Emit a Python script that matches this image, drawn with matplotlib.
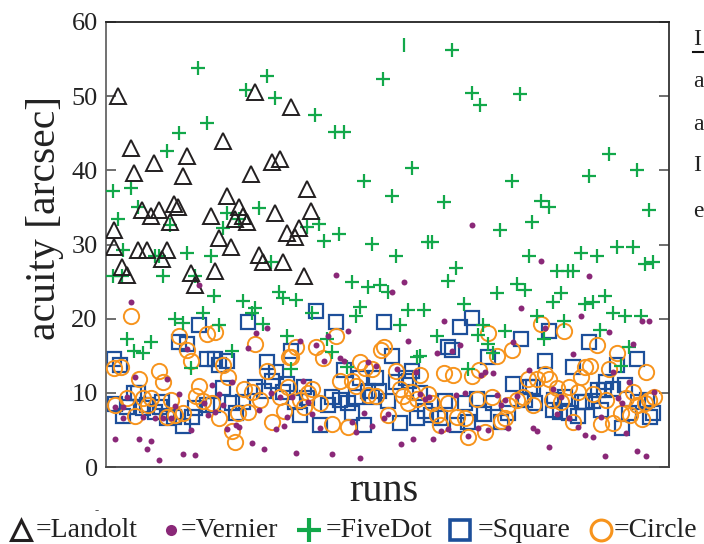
import matplotlib
matplotlib.use('Agg')
import matplotlib.pyplot as plt

# данные по сериям: номер прогона и острота зрения (arcsec)
landolt_run = [2.4, 5.0, 5.6, 9.6, 16.2, 15.4, 23.4, 29.8, 37.0, 33.2, 34.8, 29.0, 40.2, 33.8, 41.0, 36.2,
               38.6, 37.8, 24.2, 7.2, 9.0, 10.6, 13.6, 14.4, 12.8, 21.0, 26.6, 25.8, 27.4, 28.2, 1.6, 22.6,
               1.6, 6.4, 8.2, 12.2, 11.2, 25.0, 30.6, 31.4, 35.4, 3.2, 4.2, 17.0, 21.8, 39.6, 17.8]
landolt_acuity = [50.0, 43.0, 39.7, 41.0, 41.9, 39.2, 43.9, 50.5, 48.5, 41.1, 41.5, 39.5, 37.5, 34.3, 34.5,
                  31.6, 32.2, 31.0, 36.5, 34.6, 33.8, 34.6, 35.5, 35.1, 33.0, 33.8, 35.0, 33.5, 33.8, 33.0,
                  32.0, 30.9, 29.7, 29.3, 29.3, 29.3, 28.0, 29.7, 28.6, 27.6, 27.7, 27.0, 25.9, 26.2, 26.4,
                  25.8, 24.5]

fivedot_run = [18.4, 28.0, 20.2, 14.6, 12.2, 1.4, 5.0, 2.4, 6.4, 12.8, 24.2, 23.4, 26.6, 69.2, 32.2, 55.4,
               33.8, 73.2, 74.8, 41.8, 45.8, 47.6, 61.2, 51.6, 57.2, 67.6, 30.6, 40.2, 42.6, 43.6, 46.6,
               53.2, 64.4, 65.2, 78.8, 82.8, 81.2, 100.6, 96.6, 106.2, 87.0, 88.6, 85.2, 108.6, 102.2,
               105.4, 95.0, 58.0, 84.6, 98.2, 107.8, 109.4, 90.2, 92.4, 93.4, 70.0, 68.4, 49.2, 52.4, 54.8,
               56.4, 78.2, 82.2, 83.8, 91.0, 99.8, 3.4, 9.8, 10.6, 16.2, 21.0, 33.0, 1.4, 3.2, 11.4, 17.8,
               21.6, 34.6, 35.4, 38.0, 27.4, 29.8, 29.2, 13.8, 15.4, 19.4, 22.6, 31.4, 4.2, 9.0, 5.6, 7.4,
               25.2, 17.0, 36.2, 41.2, 50.8, 50.0, 60.4, 63.6, 58.8, 71.6, 75.4, 44.2, 45.2, 66.2, 62.2,
               62.8, 48.2, 37.0, 72.4, 89.4, 95.8, 97.4, 101.4, 103.8, 107.0, 86.2, 91.6, 79.8, 87.6,
               98.8, 74.4, 76.4, 77.4, 104.6, 103.0]
fivedot_acuity = [53.8, 50.8, 46.4, 45.0, 42.6, 37.2, 37.6, 33.4, 35.0, 32.6, 34.3, 32.2, 33.5, 56.2, 52.7,
                  52.3, 49.7, 50.4, 48.8, 47.4, 45.1, 45.1, 40.3, 38.5, 36.5, 35.7, 34.9, 32.3, 32.8, 30.5,
                  31.4, 30.1, 30.3, 30.4, 31.9, 50.3, 38.5, 42.2, 39.3, 40.1, 35.8, 35.1, 33.0, 34.6, 29.7,
                  29.6, 28.9, 28.5, 28.5, 28.5, 27.4, 27.7, 26.4, 26.4, 26.4, 26.8, 25.1, 24.9, 24.3, 24.5,
                  23.6, 23.5, 24.7, 23.8, 23.5, 23.1, 29.2, 28.5, 28.5, 28.8, 28.4, 27.7, 25.8, 25.7, 25.7,
                  25.8, 23.1, 23.6, 22.8, 22.5, 22.4, 21.4, 20.7, 20.0, 19.4, 20.7, 19.1, 19.3, 17.3, 16.9,
                  15.7, 15.4, 15.7, 13.4, 17.7, 20.8, 21.6, 20.3, 21.2, 21.2, 19.2, 22.0, 19.2, 17.3, 15.5,
                  17.7, 14.9, 15.0, 13.5, 13.2, 13.2, 22.2, 22.0, 22.2, 20.8, 20.4, 20.3, 20.4, 19.7, 18.4,
                  17.2, 18.5, 17.8, 16.6, 15.4, 16.2, 13.6]
# одиночная вертикальная черта вверху
fivedot_bar_run = [59.6]
fivedot_bar_acuity = [56.9]

vernier_run = [5.0, 18.6, 16.2, 5.8, 12.2, 4.2, 21.2, 22.6, 25.2, 14.6, 1.8, 6.6, 9.0, 8.2, 10.6, 15.4, 17.8,
               17.0, 24.2, 26.0, 26.6, 20.4, 21.8, 9.8, 11.4, 13.0, 7.4, 19.6, 1.8, 3.4, 3.4, 23.4, 13.8,
               30.0, 32.2, 28.4, 33.0, 34.8, 30.6, 34.0, 35.6, 36.2, 29.2, 31.6, 57.2, 48.4, 44.4, 42.0,
               38.8, 46.8, 47.6, 43.6, 52.4, 54.0, 60.4, 67.6, 66.2, 70.8, 69.2, 58.2, 62.0, 39.4, 37.2,
               40.4, 41.2, 51.6, 55.6, 56.4, 63.8, 64.6, 62.8, 70.0, 71.8, 74.4, 72.4, 67.0, 68.4, 42.8,
               49.2, 50.0, 53.2, 61.4, 65.4, 59.0, 38.0, 45.2, 50.8, 46.0, 59.6, 73.2, 87.0, 96.6, 83.0,
               95.0, 107.2, 108.6, 87.8, 100.6, 81.4, 93.4, 105.4, 84.6, 75.0, 77.4, 75.8, 101.4, 104.6,
               109.6, 78.2, 79.8, 82.2, 89.4, 91.0, 102.4, 103.2, 79.0, 90.2, 92.6, 94.4, 99.0, 76.4, 80.4,
               85.4, 86.2, 95.8, 97.4, 104.0, 88.6, 99.8, 106.2, 108.0]
vernier_acuity = [22.3, 24.6, 15.9, 12.2, 11.8, 9.5, 11.1, 9.9, 11.5, 9.9, 3.8, 3.8, 3.5, 2.4, 0.9, 1.8, 1.6,
                  5.0, 5.1, 5.7, 5.4, 7.0, 7.4, 6.6, 6.6, 6.6, 6.8, 8.6, 8.1, 8.1, 6.6, 8.4, 8.2, 18.1, 18.8,
                  16.1, 10.0, 9.5, 7.7, 5.1, 5.5, 6.8, 3.2, 2.4, 23.6, 18.4, 17.6, 16.5, 17.0, 14.7, 14.3,
                  14.3, 14.2, 13.6, 17.0, 19.7, 15.4, 16.4, 15.7, 13.2, 12.8, 11.6, 9.5, 8.8, 7.2, 7.3, 6.6,
                  7.2, 9.2, 9.5, 9.9, 9.7, 10.0, 5.3, 4.2, 4.9, 5.1, 5.3, 6.1, 4.7, 5.5, 3.8, 3.8, 3.1, 1.9,
                  1.8, 1.2, 25.9, 25.0, 32.6, 27.8, 25.7, 21.5, 20.4, 19.7, 19.7, 18.8, 18.2, 16.9, 15.3,
                  16.6, 13.1, 12.4, 12.7, 12.8, 12.8, 11.4, 10.1, 9.7, 9.1, 9.6, 10.5, 9.5, 9.3, 8.6, 8.4,
                  7.2, 6.6, 5.4, 6.8, 5.0, 5.3, 5.3, 4.9, 4.3, 4.1, 4.6, 2.7, 1.5, 2.2, 1.5]

square_run = [18.6, 28.4, 1.6, 2.8, 14.6, 16.2, 20.2, 21.8, 24.2, 22.6, 32.2, 34.0, 33.2, 36.2, 23.4, 29.8,
              31.6, 5.6, 6.4, 1.8, 4.2, 3.4, 7.4, 8.2, 9.8, 11.2, 10.8, 12.2, 13.6, 15.4, 17.2, 17.8, 20.2,
              21.4, 25.2, 27.4, 26.0, 35.4, 42.0, 46.0, 55.6, 70.8, 73.2, 37.0, 57.2, 68.4, 69.2, 47.6,
              50.8, 54.0, 58.0, 60.0, 60.6, 61.2, 39.6, 37.8, 40.2, 38.8, 45.2, 46.8, 44.4, 48.4, 50.0,
              52.4, 54.6, 53.2, 56.4, 49.2, 42.8, 51.6, 58.8, 62.8, 67.8, 71.8, 74.2, 62.2, 63.8, 65.0,
              66.8, 70.2, 72.4, 88.6, 83.0, 96.6, 76.4, 87.8, 93.4, 102.2, 106.2, 81.4, 84.8, 85.4, 100.0,
              98.4, 99.6, 101.4, 103.8, 77.4, 83.8, 85.8, 89.6, 91.8, 95.2, 95.8, 97.4, 106.4, 108.2, 75.6,
              79.0, 80.4, 89.4, 90.8, 92.6, 94.4, 99.0, 104.6, 108.8, 109.4, 103.2]
square_acuity = [19.1, 19.5, 14.6, 13.7, 16.8, 16.6, 14.6, 14.5, 14.3, 13.7, 14.1, 12.8, 11.6, 11.2, 10.7,
                 10.8, 10.3, 10.0, 10.0, 8.5, 8.1, 6.9, 8.0, 8.4, 7.4, 8.8, 8.1, 6.6, 6.8, 5.5, 6.8, 8.0, 8.4,
                 8.4, 8.6, 8.8, 7.3, 10.1, 21.1, 19.5, 19.6, 18.9, 20.1, 15.7, 15.0, 16.2, 15.8, 13.1, 12.0,
                 12.0, 11.5, 12.0, 11.6, 13.0, 10.8, 8.8, 9.3, 7.0, 9.5, 9.1, 8.4, 8.6, 9.5, 10.3, 10.3, 9.5,
                 8.9, 7.3, 5.7, 5.7, 5.9, 10.0, 8.9, 8.6, 9.2, 6.6, 7.6, 7.0, 6.6, 5.7, 6.1, 18.4, 17.3, 16.9,
                 14.9, 14.3, 13.5, 13.8, 14.5, 11.2, 10.8, 10.8, 11.5, 10.4, 10.4, 10.5, 11.1, 8.6, 9.1, 8.6,
                 9.1, 9.5, 8.8, 8.8, 8.9, 8.8, 9.1, 7.2, 6.1, 7.3, 7.7, 7.4, 7.3, 6.9, 7.7, 7.3, 6.8, 7.3, 5.3]

circle_run = [5.0, 14.6, 20.2, 21.8, 29.8, 16.2, 17.0, 1.6, 3.0, 10.6, 6.6, 11.4, 23.4, 24.4, 18.6, 27.6,
              29.2, 32.2, 36.6, 4.2, 1.8, 7.4, 9.0, 8.4, 13.0, 18.0, 19.4, 21.2, 5.8, 12.2, 13.8, 15.4, 22.6,
              26.4, 28.4, 25.2, 25.8, 33.2, 30.8, 34.8, 35.6, 38.0, 37.0, 42.0, 46.0, 43.4, 55.0, 55.6,
              50.8, 51.8, 53.2, 58.0, 62.8, 67.6, 69.4, 73.2, 46.8, 49.2, 50.0, 36.4, 41.2, 40.4, 38.8,
              39.6, 42.8, 52.4, 54.0, 58.8, 59.4, 60.4, 61.2, 62.2, 64.4, 65.2, 56.4, 66.2, 66.8, 68.4,
              70.2, 71.8, 74.2, 45.2, 48.4, 72.4, 76.4, 87.0, 91.6, 81.2, 78.2, 98.2, 102.2, 74.6, 87.8,
              88.6, 84.4, 86.2, 95.0, 95.8, 96.8, 100.6, 108.0, 90.2, 92.6, 94.4, 97.4, 100.0, 105.4, 104.0,
              107.8, 108.6, 109.6, 77.2, 80.4, 82.2, 83.4, 89.2, 91.0, 103.0, 104.8, 106.2, 107.2, 79.0,
              79.8, 75.8, 93.4, 99.0, 101.4, 85.4]
circle_acuity = [20.3, 17.6, 18.0, 18.2, 16.6, 15.8, 14.3, 13.4, 13.5, 13.0, 11.9, 11.5, 13.8, 12.2, 10.9,
                 10.5, 10.1, 13.0, 14.9, 9.3, 8.4, 9.3, 9.3, 8.4, 9.0, 9.6, 8.9, 8.6, 6.9, 6.8, 7.0, 7.3, 6.6,
                 7.3, 7.4, 4.9, 3.4, 6.1, 9.1, 9.5, 7.6, 16.2, 14.9, 16.2, 17.6, 14.7, 15.8, 16.2, 14.1, 13.4,
                 13.2, 13.0, 12.4, 12.7, 12.4, 12.3, 11.6, 11.6, 10.9, 10.8, 10.5, 10.0, 9.1, 8.1, 8.6, 9.7,
                 9.6, 10.5, 9.6, 8.6, 10.1, 9.2, 9.9, 8.6, 7.0, 7.0, 5.7, 8.6, 6.8, 6.6, 9.2, 5.8, 5.4, 4.1,
                 18.1, 19.3, 18.4, 15.8, 15.0, 16.4, 15.4, 13.1, 12.6, 11.9, 11.8, 11.8, 12.2, 13.5, 13.6,
                 13.2, 12.8, 10.7, 10.8, 10.1, 9.9, 9.1, 10.1, 9.3, 8.6, 9.1, 9.5, 9.5, 8.4, 9.1, 9.5, 9.1,
                 8.8, 7.3, 7.0, 8.4, 6.5, 6.2, 6.6, 4.7, 6.1, 5.8, 5.9, 8.4]

# цвета серий
c_landolt = '#231f20'
c_vernier = '#8a2878'
c_fivedot = '#12a84a'
c_square = '#1d4f9a'
c_circle = '#f7941d'

plt.rcParams['font.family'] = ['Liberation Serif', 'DejaVu Serif']

fig = plt.figure(figsize=(7.04, 5.44), dpi=100)
ax = fig.add_axes([0.1506, 0.1415, 0.7997, 0.8181])

ax.plot(square_run, square_acuity, ls='none', marker='s', ms=9.5, mfc='none',
        mec=c_square, mew=1.6, zorder=2)
ax.plot(circle_run, circle_acuity, ls='none', marker='o', ms=11, mfc='none',
        mec=c_circle, mew=1.4, zorder=3)
ax.plot(fivedot_run, fivedot_acuity, ls='none', marker='+', ms=10.5,
        mec=c_fivedot, mew=1.6, zorder=4)
ax.plot(fivedot_bar_run, fivedot_bar_acuity, ls='none', marker='|', ms=10.5,
        mec=c_fivedot, mew=1.6, zorder=4)
ax.plot(landolt_run, landolt_acuity, ls='none', marker='^', ms=11.5, mfc='none',
        mec=c_landolt, mew=1.4, zorder=5)
ax.plot(vernier_run, vernier_acuity, ls='none', marker='o', ms=4.3, mfc=c_vernier,
        mec='none', zorder=6)

ax.set_xlim(0, 112.6)
ax.set_ylim(0, 60)
ax.set_xticks([])
ax.set_yticks(range(0, 61, 10))
ax.tick_params(axis='y', direction='in', length=7, width=1.2, right=True,
               labelsize=19, pad=6, colors='#555555', labelcolor='#222222')
for side in ['left', 'right', 'top', 'bottom']:
    ax.spines[side].set_linewidth(1.3)
ax.spines['left'].set_color('#666666')
ax.spines['bottom'].set_color('#444444')
ax.spines['top'].set_color('#222222')
ax.spines['right'].set_color('#333333')

# подписи осей
fig.text(0.064, 0.60, 'acuity [arcsec]', rotation=90, fontsize=30,
         ha='center', va='center', color='#222222')
fig.text(0.545, 0.097, 'runs', fontsize=29, ha='center', va='center', color='#222222')
fig.text(0.137, 0.06, '-', fontsize=9, ha='center', va='center', color='#555555')

# легенда строкой снизу
ly = 0.024
legend_items = [
    (0.030, '^', dict(ms=14, mfc='none', mec=c_landolt, mew=2.2), 0.050, '=Landolt'),
    (0.243, 'o', dict(ms=8, mfc=c_vernier, mec='none'), 0.257, '=Vernier'),
    (0.439, '+', dict(ms=17, mec=c_fivedot, mew=3.0), 0.463, '=FiveDot'),
    (0.654, 's', dict(ms=14, mfc='none', mec=c_square, mew=2.6), 0.678, '=Square'),
    (0.854, 'o', dict(ms=15, mfc='none', mec=c_circle, mew=2.2), 0.872, '=Circle'),
]
for mx, mk, style, tx, label in legend_items:
    fig.lines.append(plt.Line2D([mx], [ly + 0.002], marker=mk, ls='none',
                                transform=fig.transFigure, figure=fig, **style))
    fig.text(tx, ly, label, fontsize=20, ha='left', va='center', color='#222222')

# обрывки текста страницы справа
for yy, ch in [(0.928, 'I'), (0.85, 'a'), (0.772, 'a'), (0.695, 'I'), (0.612, 'e')]:
    fig.text(0.984, yy, ch, fontsize=17, ha='left', va='center', color='#222222')
fig.lines.append(plt.Line2D([0.985, 1.0], [0.904, 0.904], color='#111111', lw=1.5,
                            transform=fig.transFigure, figure=fig))

fig.savefig('out.png', dpi=100)
